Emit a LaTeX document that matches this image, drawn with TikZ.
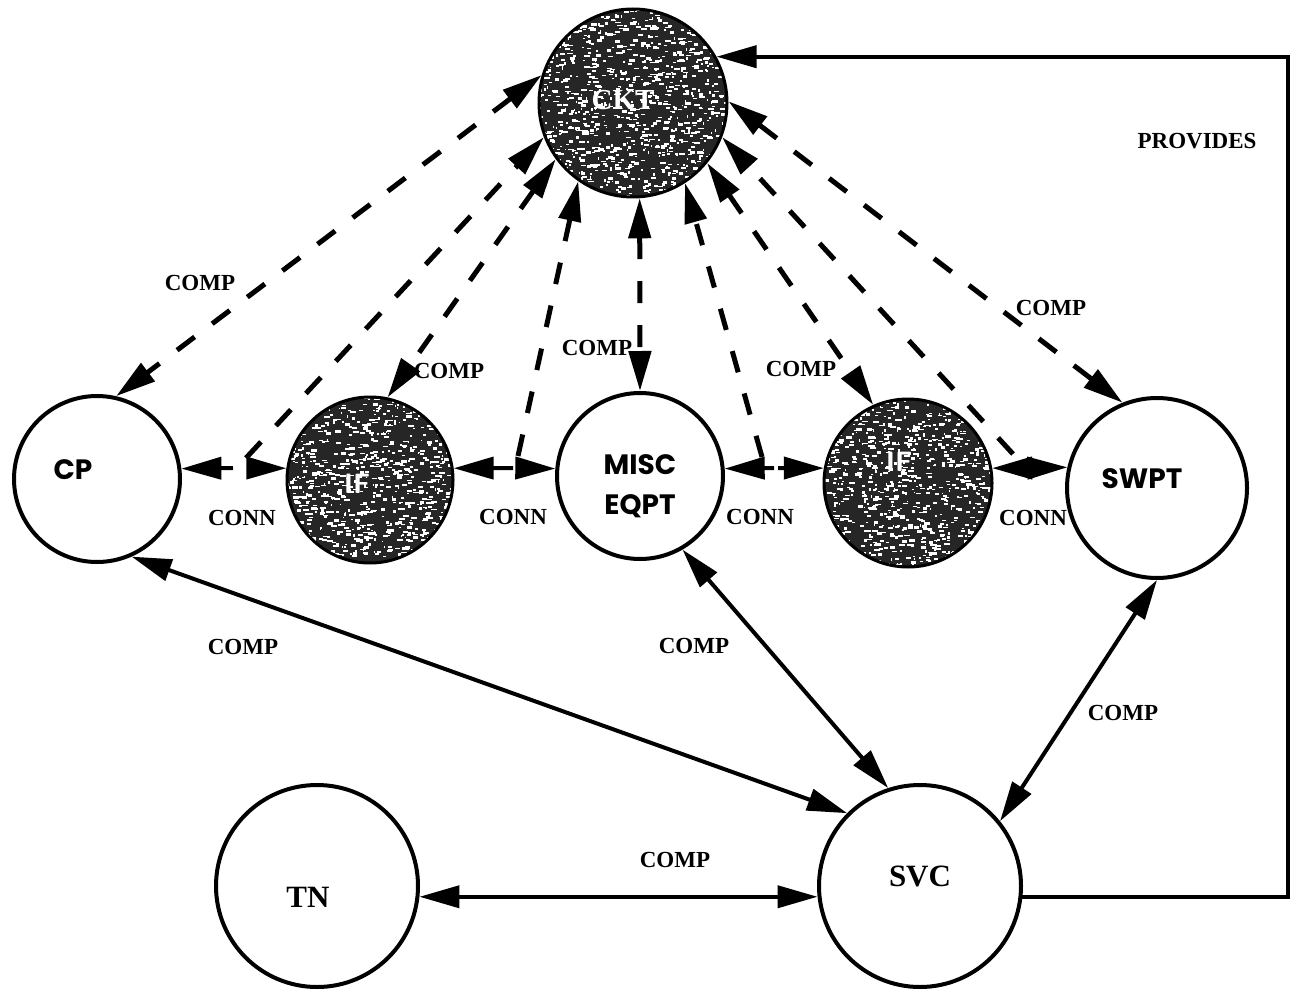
\documentclass[tikz,border=0pt]{standalone}
\usepackage{fontspec}
\setmainfont{Liberation Serif}
\newfontfamily\geo{Poppins}
\usetikzlibrary{arrows.meta,calc}

% white grain scattered over a dark disc
\newcommand\grainfill[1]{%
  \pgfmathsetseed{#1}%
  \foreach \k in {1,...,1200}{%
    \pgfmathsetmacro\gx{100*rand}%
    \pgfmathsetmacro\gy{100*rand}%
    \pgfmathsetmacro\gw{1+5*rnd}%
    \pgfmathsetmacro\gh{1+2*rnd}%
    \pgfmathsetmacro\ga{60*rand}%
    \fill[white, rotate=\ga] ([shift={(\gx,\gy)}]path picture bounding box.center) rectangle ++(\gw,\gh);
  }}

\begin{document}
\begin{tikzpicture}[x=1pt,y=-1pt,
  >={Triangle[length=40pt,width=22pt]},
  ring/.style={circle, draw, line width=4pt, minimum size=#1, inner sep=0pt},
  mottled/.style 2 args={circle, draw, line width=3pt, minimum size=#1, inner sep=0pt,
    fill=black!85, path picture={\grainfill{#2}}},
  solidlink/.style={<->, line width=4pt},
  dashlink/.style={line width=5pt, dash pattern=on 22pt off 22pt},
  conn/.style={->, line width=4pt, shorten <=#1},
  provides/.style={->, line width=4pt, line join=miter},
  lbl/.style={font=\fontsize{23}{25}\selectfont\bfseries},
  sanslbl/.style={font=\fontsize{28}{40}\selectfont\geo\bfseries, align=center},
  seriflbl/.style={font=\fontsize{31}{34}\selectfont\bfseries},
  whitelbl/.style={text=white}]

\fill[white] (0,0) rectangle (1292,992);
\useasboundingbox (0,0) rectangle (1292,992);

% entities
\node[mottled={188}{11}, label={[name=ckttext, whitelbl, font=\fontsize{29}{30}\selectfont\bfseries, xshift=-10pt, yshift=3pt]center:CKT}] (CKT) at (633,103) {};
\node[ring=166, label={[name=cptext, sanslbl, xshift=-24pt, yshift=9pt]center:CP}] (CP) at (97,479) {};
\node[mottled={166}{23}, label={[name=if1text, whitelbl, font=\fontsize{28}{30}\selectfont\sffamily\bfseries, xshift=-13pt, yshift=-4pt]center:IF}] (IF1) at (370,480) {};
\node[ring=166, label={[name=misctext, sanslbl, yshift=-10pt]center:MISC\\EQPT}] (MISC) at (640,476) {};
\node[mottled={168}{37}, label={[name=if2text, whitelbl, font=\fontsize{28}{30}\selectfont\sffamily\bfseries, xshift=-9pt, yshift=21pt]center:IF}] (IF2) at (908,483) {};
\node[ring=180, label={[name=swpttext, sanslbl, xshift=-15pt, yshift=9pt]center:SWPT}] (SWPT) at (1157,488) {};
\node[ring=202, label={[name=svctext, seriflbl, yshift=10pt]center:SVC}] (SVC) at (920,886) {};
\node[ring=202, label={[name=tntext, seriflbl, xshift=-9pt, yshift=-11pt]center:TN}] (TN) at (317,886) {};

% break points of the CONN links and feet of the dashed lines above them
\coordinate (m1) at (243,468);
\coordinate (m2) at (515,468);
\coordinate (m3) at (776,468);
\coordinate (m4) at (1033,468);
\coordinate (e1) at (246,458);
\coordinate (e2) at (518,456);
\coordinate (e3) at (762,457);
\coordinate (e4) at (1013,454);
\coordinate (rt) at (1288,500);

% CONN links
\draw[conn=10pt] (m1) -- (CP.7);
\draw[conn=10pt] (m1) -- (IF1.172);
\draw[conn=2pt] (m2) -- (IF1.8);
\draw[conn=2pt] (m2) -- (MISC.175);
\draw[conn=2pt] (m3) -- (MISC.5);
\draw[conn=2pt] (m3) -- (IF2.170);
\draw[conn=2pt] (m4) -- (IF2.10);
\draw[conn=2pt] (m4) -- (SWPT.167);

% dashed composition links to the circuit
\draw[dashlink, <->] (CKT.163) -- (CP.77);
\draw[dashlink, ->] (e1) -- (CKT.201);
\draw[dashlink, <->] (CKT.216) -- (IF1.78);
\draw[dashlink, ->] (e2) -- (CKT.235);
\draw[dashlink, <->] (CKT.274) -- (MISC.90);
\draw[dashlink, ->] (e3) -- (CKT.303);
\draw[dashlink, <->] (CKT.321) -- (IF2.114);
\draw[dashlink, ->] (e4) -- (CKT.339);
\draw[dashlink, <->] (CKT.1) -- (SWPT.112);

% solid composition links to the service
\draw[solidlink] (CP.-66) -- (SVC.135);
\draw[solidlink] (MISC.-60) -- (SVC.108);
\draw[solidlink] (SWPT.-90) -- (SVC.39);
\draw[solidlink] (TN.-6) -- (SVC.186);

% service provides the circuit
\draw[provides] (SVC.-6) -| (rt) |- (CKT.29);

% link labels
\node[lbl] (c1) at (200,283) {COMP};
\node[lbl] (c2) at (449,371) {COMP};
\node[lbl] (c3) at (597,348) {COMP};
\node[lbl] (c4) at (801,369) {COMP};
\node[lbl] (c5) at (1051,308) {COMP};
\node[lbl] (c6) at (243,647) {COMP};
\node[lbl] (c7) at (694,646) {COMP};
\node[lbl] (c8) at (1123,713) {COMP};
\node[lbl] (c9) at (675,860) {COMP};
\node[lbl] (k1) at (242,518) {CONN};
\node[lbl] (k2) at (513,517) {CONN};
\node[lbl] (k3) at (760,517) {CONN};
\node[lbl] (k4) at (1033,518) {CONN};
\node[lbl] (prov) at (1197,141) {PROVIDES};
\end{tikzpicture}
\end{document}
